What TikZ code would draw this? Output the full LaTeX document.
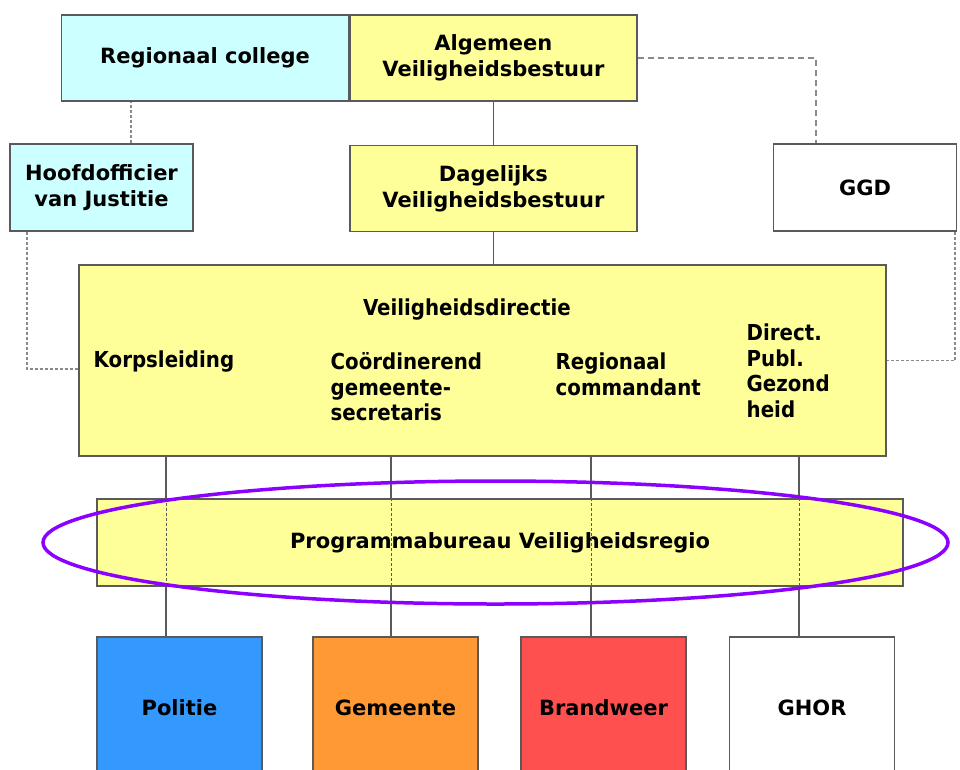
\documentclass[tikz,border=0pt]{standalone}
\usepackage{fontspec}
\setmainfont{DejaVu Sans}
\newfontfamily\condfont{DejaVu Sans Condensed}[BoldFont={DejaVu Sans Condensed Bold}]
\usetikzlibrary{positioning}

\definecolor{collegecyan}{HTML}{CCFFFF}
\definecolor{bestuuryellow}{HTML}{FFFF99}
\definecolor{politieblue}{HTML}{3399FF}
\definecolor{gemeenteorange}{HTML}{FF9933}
\definecolor{brandweerred}{HTML}{FF5050}
\definecolor{ringpurple}{HTML}{8C00FF}
\definecolor{linegray}{HTML}{5A5A5A}
\definecolor{dashgray}{HTML}{8A8A8A}

\begin{document}
\begin{tikzpicture}[x=1pt, y=-1pt,
    every node/.style={draw=linegray, line width=1.4pt, align=center, inner sep=0pt,
                       font=\bfseries\fontsize{21}{26}\selectfont},
    wide/.style={minimum width=287pt, minimum height=86pt},
    small/.style={minimum width=183pt, minimum height=87pt},
    unit/.style={minimum width=165pt, minimum height=142pt},
    lbl/.style={draw=none, align=left, font=\condfont\bfseries\fontsize{22}{25.5}\selectfont},
    link/.style={draw=linegray, line width=1.4pt},
    loose/.style={draw=dashgray, line width=1.6pt, dash pattern=on 6pt off 4pt},
    dotty/.style={draw=dashgray, line width=1.6pt, dash pattern=on 3pt off 2pt}]
  \useasboundingbox (0,0) rectangle (960,769);
  \clip (0,0) rectangle (960,769);

  \node[wide, fill=collegecyan]   (college) at (205,58)   {Regionaal college};
  \node[wide, fill=bestuuryellow] (avb) [right=0pt of college] {Algemeen\\Veiligheidsbestuur};
  \node[wide, fill=bestuuryellow] (dvb) [below=43pt of avb] {Dagelijks\\Veiligheidsbestuur};
  \node[small, fill=collegecyan]  (hvj) at (101.5,187.5) {Hoofdofficier\\van Justitie};
  \node[small, fill=white]        (ggd) at (865,187.5)   {GGD};

  \node[fill=bestuuryellow, minimum width=807pt, minimum height=191pt] (vd) at (482.5,360.5) {};
  \node[lbl] (vdtitle) at (467,310)               {Veiligheidsdirectie};
  \node[lbl, anchor=west] (korps) at (93,362)     {Korpsleiding};
  \node[lbl, anchor=west] (cgs)   at (330,387)    {Coördinerend\\gemeente-\\secretaris};
  \node[lbl, anchor=west] (rcmd)  at (555,374.5)  {Regionaal\\commandant};
  \node[lbl, anchor=west] (dpg)   at (746,371)    {Direct.\\Publ.\\Gezond\\heid};

  \node[unit, fill=politieblue]    (pol)  at (179.5,708) {Politie};
  \node[unit, fill=gemeenteorange] (gem)  at (395.5,708) {Gemeente};
  \node[unit, fill=brandweerred]   (brw)  at (603.5,708) {Brandweer};
  \node[unit, fill=white]          (ghor) at (812,708)   {GHOR};

  \draw[link] (avb) -- (dvb);
  \draw[link] (dvb) -- (dvb.south |- vd.north);
  \draw[dotty] ([xshift=29.5pt]hvj.north) -- ([xshift=29.5pt]hvj.north |- college.south);
  \draw[dotty] ([xshift=-74.5pt]hvj.south) |- ([yshift=-8.5pt]vd.west);
  \draw[loose] (avb.east) -| ([xshift=-49pt]ggd.north);
  \draw[dotty] ([xshift=90pt]ggd.south) |- (vd.east);

  \foreach \n/\d in {pol/-13.5, gem/-4.5, brw/-12.5, ghor/-13}
    \draw[link] ([xshift=\d pt]\n.north) -- ([xshift=\d pt]\n.north |- vd.south);

  \node[fill=bestuuryellow, minimum width=806pt, minimum height=87pt] (pbv) at (500,542.5)
    {Programmabureau Veiligheidsregio};
  \foreach \n/\d in {pol/-13.5, gem/-4.5, brw/-12.5, ghor/-13}
    \draw[link, line width=1pt, dash pattern=on 3pt off 2pt] ([xshift=\d pt]\n.north |- pbv.north) -- ([xshift=\d pt]\n.north |- pbv.south);

  % ring round the programme office
  \draw[ringpurple, line width=3.5pt] ([xshift=-4.5pt]pbv.center) ellipse [x radius=452.5, y radius=61.5];
\end{tikzpicture}
\end{document}
